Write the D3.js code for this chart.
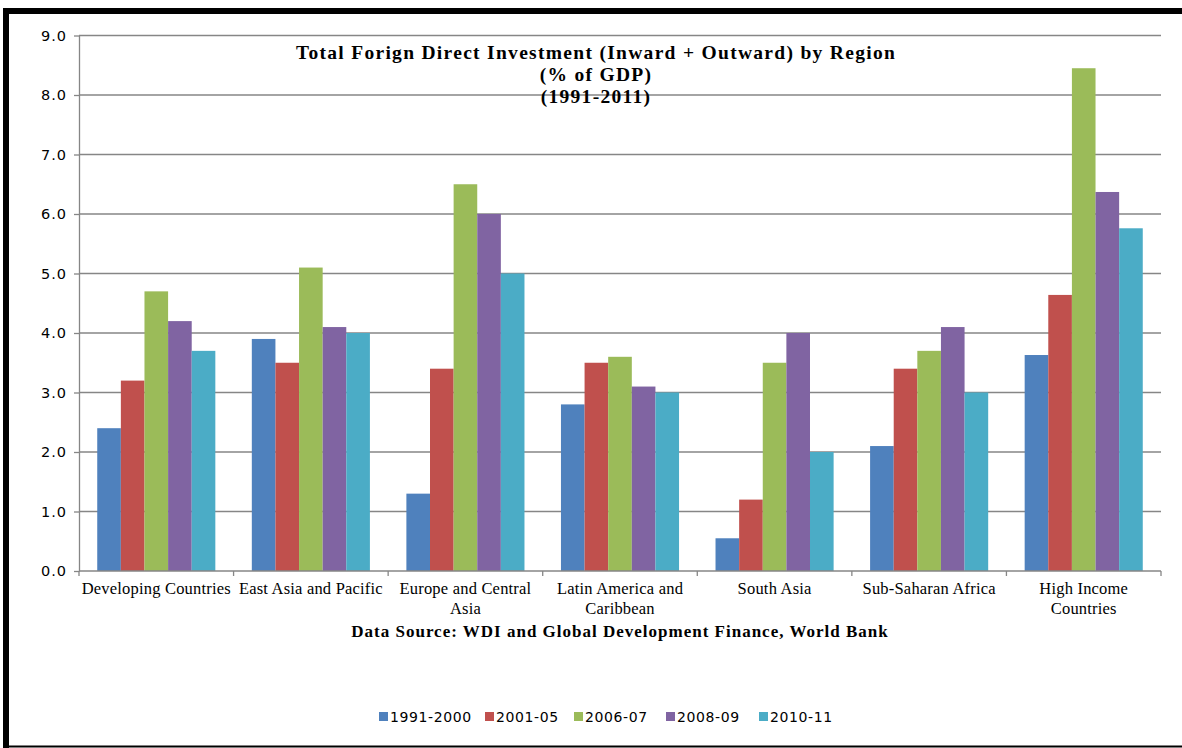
<!DOCTYPE html>
<html>
<head>
<meta charset="utf-8">
<script src="https://cdn.jsdelivr.net/npm/d3@7/dist/d3.min.js"></script>
<style>
  html, body { margin: 0; padding: 0; background: #fff; }
  svg { display: block; }
</style>
</head>
<body>
<svg id="chart" width="1182" height="748"></svg>
<script>
// Regions (x-axis categories) and the text lines used for their tick labels
const categories = [
  "Developing Countries", "East Asia and Pacific", "Europe and Central Asia",
  "Latin America and Caribbean", "South Asia", "Sub-Saharan Africa", "High Income Countries"
];
const categoryLines = [
  ["Developing Countries"], ["East Asia and Pacific"], ["Europe and Central", "Asia"],
  ["Latin America and", "Caribbean"], ["South Asia"], ["Sub-Saharan Africa"], ["High Income", "Countries"]
];

// Periods (series)
const periods = ["1991-2000", "2001-05", "2006-07", "2008-09", "2010-11"];
const periodColors = ["#4F81BD", "#C0504D", "#9BBB59", "#8064A2", "#4BACC6"];

// FDI (inward + outward) as % of GDP, one array per period, in category order
const v1991_2000 = [2.4, 3.9, 1.3, 2.8, 0.55, 2.1, 3.63];
const v2001_05   = [3.2, 3.5, 3.4, 3.5, 1.2, 3.4, 4.64];
const v2006_07   = [4.7, 5.1, 6.5, 3.6, 3.5, 3.7, 8.45];
const v2008_09   = [4.2, 4.1, 6.0, 3.1, 4.0, 4.1, 6.37];
const v2010_11   = [3.7, 4.0, 5.0, 3.0, 2.0, 3.0, 5.76];
const seriesValues = [v1991_2000, v2001_05, v2006_07, v2008_09, v2010_11];

// Y-axis ticks
const yTicks = [0, 1, 2, 3, 4, 5, 6, 7, 8, 9];

const titleLines = [
  "Total Forign Direct Investment (Inward + Outward) by Region",
  "(% of GDP)",
  "(1991-2011)"
];
const sourceText = "Data Source: WDI and Global Development Finance, World Bank";

const svg = d3.select("#chart");
const serif = "'Liberation Serif', 'Times New Roman', serif";

// Frame around the chart
svg.append("rect").attr("x", 3).attr("y", 8).attr("width", 1179).attr("height", 6).attr("fill", "#000");
svg.append("rect").attr("x", 3).attr("y", 8).attr("width", 6).attr("height", 740).attr("fill", "#000");
svg.append("rect").attr("x", 3).attr("y", 745.5).attr("width", 1179).attr("height", 2).attr("fill", "#000");

const plot = { left: 79, right: 1161, top: 35.5, bottom: 571 };

const x0 = d3.scaleBand().domain(categories).range([plot.left, plot.right]).paddingInner(0).paddingOuter(0);
const gap = x0.bandwidth() * 0.118;
const x1 = d3.scaleBand().domain(periods).range([gap, x0.bandwidth() - gap]).padding(0);
const y = d3.scaleLinear().domain([0, 9]).range([plot.bottom, plot.top]);
const color = d3.scaleOrdinal().domain(periods).range(periodColors);

// Gridlines
svg.append("g")
  .selectAll("line")
  .data(yTicks.filter(d => d > 0))
  .join("line")
  .attr("x1", plot.left).attr("x2", plot.right)
  .attr("y1", d => y(d)).attr("y2", d => y(d))
  .attr("stroke", "#868686").attr("stroke-width", 1.3);

// Bars
const rows = categories.map((c, i) => ({ category: c, values: periods.map((p, j) => ({ period: p, value: seriesValues[j][i] })) }));
svg.append("g")
  .selectAll("g")
  .data(rows)
  .join("g")
  .attr("transform", d => `translate(${x0(d.category)},0)`)
  .selectAll("rect")
  .data(d => d.values)
  .join("rect")
  .attr("x", d => x1(d.period))
  .attr("width", x1.bandwidth())
  .attr("y", d => y(d.value))
  .attr("height", d => y(0) - y(d.value))
  .attr("fill", d => color(d.period));

// Y axis
const yAxis = svg.append("g")
  .attr("transform", `translate(${plot.left},0)`)
  .call(d3.axisLeft(y).tickValues(yTicks).tickFormat(d3.format(".1f")).tickSize(5).tickSizeOuter(0));
yAxis.select(".domain").attr("stroke", "#868686").attr("stroke-width", 1.3);
yAxis.selectAll(".tick line").attr("stroke", "#868686").attr("stroke-width", 1.3);
yAxis.selectAll(".tick text")
  .attr("x", -12)
  .attr("font-family", "'DejaVu Sans', sans-serif")
  .attr("font-size", 14.5)
  .attr("letter-spacing", 1)
  .attr("fill", "#000");

// X axis: baseline and boundary ticks
const xAxis = svg.append("g").attr("transform", `translate(0,${plot.bottom})`);
xAxis.append("line").attr("x1", plot.left).attr("x2", plot.right)
  .attr("stroke", "#868686").attr("stroke-width", 1.3);
const boundaries = categories.map(c => x0(c)).concat([plot.right]);
xAxis.selectAll(".bt").data(boundaries).join("line").attr("class", "bt")
  .attr("x1", d => d).attr("x2", d => d).attr("y1", 0).attr("y2", 5)
  .attr("stroke", "#868686").attr("stroke-width", 1.3);

// Category labels
const labels = svg.append("g").selectAll("text")
  .data(categories)
  .join("text")
  .attr("text-anchor", "middle")
  .attr("font-family", serif)
  .attr("font-size", 16.5)
  .attr("letter-spacing", 0.2)
  .attr("fill", "#000")
  .attr("transform", d => `translate(${x0(d) + x0.bandwidth() / 2},594)`);
labels.selectAll("tspan")
  .data((d, i) => categoryLines[i])
  .join("tspan")
  .attr("x", 0)
  .attr("y", (d, i) => i * 20)
  .text(d => d);

// Title
svg.append("g").selectAll("text")
  .data(titleLines)
  .join("text")
  .attr("x", 596)
  .attr("y", (d, i) => 59 + i * 22)
  .attr("text-anchor", "middle")
  .attr("font-family", serif)
  .attr("font-weight", "bold")
  .attr("font-size", 19.5)
  .attr("letter-spacing", 1.3)
  .attr("fill", "#000")
  .text(d => d);

// Source note
svg.append("text")
  .attr("x", 620).attr("y", 637)
  .attr("text-anchor", "middle")
  .attr("font-family", serif)
  .attr("font-weight", "bold")
  .attr("font-size", 17)
  .attr("letter-spacing", 1)
  .attr("fill", "#000")
  .text(sourceText);

// Legend
const legendX = [379, 485, 574, 666, 759];
const legend = svg.append("g").selectAll("g")
  .data(periods)
  .join("g")
  .attr("transform", (d, i) => `translate(${legendX[i]},712)`);
legend.append("rect").attr("width", 9).attr("height", 9).attr("fill", d => color(d));
legend.append("text")
  .attr("x", 11).attr("y", 9.5)
  .attr("font-family", "'DejaVu Sans', sans-serif")
  .attr("font-size", 14)
  .attr("letter-spacing", 0.6)
  .attr("fill", "#000")
  .text(d => d);
</script>
</body>
</html>
